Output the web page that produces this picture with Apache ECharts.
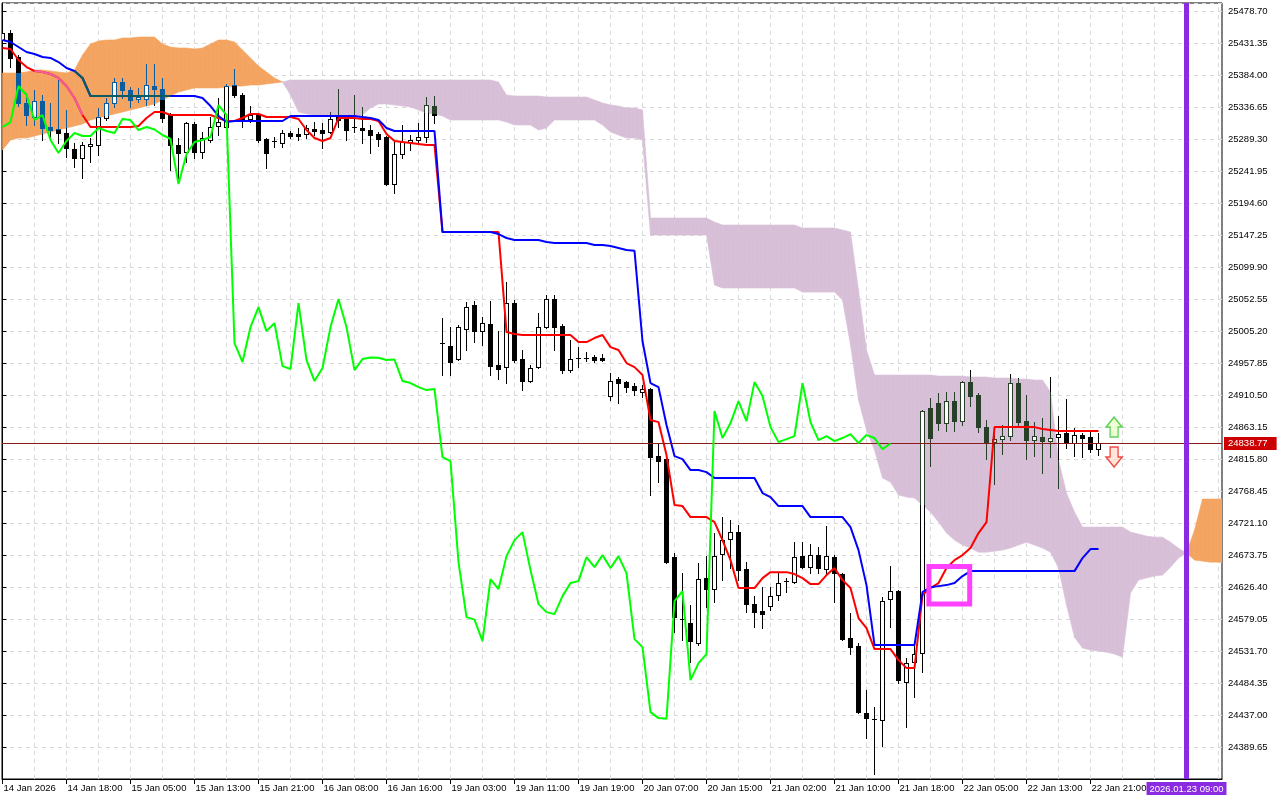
<!DOCTYPE html>
<html><head><meta charset="utf-8">
<script src="https://cdn.jsdelivr.net/npm/echarts@6/dist/echarts.min.js"></script>
<style>html,body{margin:0;padding:0;background:#fff}#c{width:1280px;height:800px}</style>
</head><body><div id="c"></div>
<script>
// ---------------- data ----------------
const xLabels = ['14 Jan 2026','14 Jan 18:00','15 Jan 05:00','15 Jan 13:00','15 Jan 21:00','16 Jan 08:00','16 Jan 16:00','19 Jan 03:00','19 Jan 11:00','19 Jan 19:00','20 Jan 07:00','20 Jan 15:00','21 Jan 02:00','21 Jan 10:00','21 Jan 18:00','22 Jan 05:00','22 Jan 13:00','22 Jan 21:00'];
const labelBars = [0,8,16,24,32,40,48,56,64,72,80,88,96,104,112,120,128,136];

const opens = [25435.8,25446.2,25410.6,25342.6,25321.8,25345.5,25307.0,25304.1,25298.2,25274.5,
25261.2,25278.9,25280.4,25320.4,25342.6,25373.6,25361.8,25348.5,25348.5,25367.7,
25363.3,25324.8,25280.4,25270.0,25311.5,25270.0,25287.8,25308.5,25307.0,25369.2,
25354.4,25318.9,25324.8,25289.3,25284.8,25283.4,25298.2,25296.7,25296.7,25304.1,
25302.6,25299.6,25321.8,25320.4,25305.6,25305.6,25302.6,25296.7,25292.2,25222.7,
25267.1,25284.8,25287.8,25292.2,25338.1,24985.9,24982.9,24963.7,25008.1,25043.6,
25005.1,25015.5,24954.8,24951.8,25046.6,24963.7,24931.1,24951.8,25011.0,25052.5,
25012.5,24947.4,24965.2,24965.2,24966.6,24965.2,24908.9,24934.1,24929.6,24923.7,
24914.8,24919.3,24820.1,24815.7,24670.6,24578.9,24573.0,24543.4,24639.6,24623.3,
24675.1,24697.3,24707.6,24652.9,24601.1,24590.7,24598.1,24614.4,24633.6,24633.6,
24672.1,24655.8,24673.6,24652.9,24670.6,24645.5,24550.8,24538.9,24439.8,24430.9,
24429.4,24608.5,24620.3,24485.6,24515.2,24528.6,24891.2,24898.6,24869.0,24901.5,
24871.9,24929.6,24910.4,24863.0,24840.8,24845.3,24849.7,24928.2,24871.9,24843.8,
24848.2,24842.3,24848.2,24854.2,24839.4,24851.2,24848.2,24830.5];
const closes = [25446.2,25409.2,25342.6,25324.8,25345.5,25305.6,25302.6,25298.2,25276.0,25261.2,
25280.4,25281.9,25321.8,25342.6,25373.6,25361.8,25347.0,25351.4,25369.2,25363.3,
25320.4,25280.4,25268.6,25313.0,25270.0,25290.8,25307.0,25314.4,25367.7,25354.4,
25317.4,25324.8,25287.8,25268.6,25286.3,25298.2,25293.7,25293.7,25305.6,25301.1,
25298.2,25318.9,25317.4,25302.6,25307.0,25303.3,25295.2,25289.3,25222.7,25267.1,
25284.8,25287.8,25292.2,25339.6,25324.8,24987.4,24959.2,25011.0,25040.6,25005.1,
25016.9,24953.3,24948.9,25046.6,24962.2,24931.1,24950.4,25011.0,25052.5,25011.0,
24947.4,24963.7,24965.9,24965.6,24962.2,24963.0,24931.1,24928.2,24922.2,24917.8,
24919.3,24818.6,24812.7,24663.2,24581.8,24578.1,24546.3,24638.1,24623.3,24672.1,
24695.8,24707.6,24651.4,24601.1,24589.2,24586.3,24612.9,24632.2,24635.1,24670.6,
24655.8,24673.6,24654.4,24672.1,24647.0,24549.3,24537.4,24441.2,24432.4,24431.6,
24605.5,24620.3,24488.6,24513.8,24527.1,24886.7,24846.8,24869.0,24901.5,24871.9,
24929.6,24908.9,24863.0,24840.8,24845.3,24849.7,24928.2,24870.4,24843.8,24849.7,
24842.3,24846.8,24852.7,24839.4,24851.2,24846.8,24830.5,24838.77];
const highs = [25453.6,25450.6,25413.6,25357.4,25361.8,25354.4,25342.6,25376.6,25332.2,25283.4,
25284.8,25290.8,25335.2,25350.0,25379.6,25379.6,25366.2,25364.8,25400.3,25400.3,
25379.6,25327.8,25290.8,25314.4,25314.4,25299.6,25321.8,25350.0,25370.7,25392.9,
25357.4,25338.1,25327.8,25290.8,25292.2,25302.6,25301.1,25305.6,25310.0,25314.4,
25313.0,25329.2,25363.3,25321.8,25354.4,25336.6,25310.0,25299.6,25293.7,25284.8,
25310.0,25295.2,25313.0,25351.4,25352.9,25024.4,25011.0,25014.0,25048.0,25049.5,
25025.8,25049.5,25005.1,25077.6,25051.0,24977.0,24954.8,25031.8,25058.4,25058.4,
25015.5,24991.8,24981.4,24974.0,24969.6,24971.1,24943.0,24937.0,24931.1,24928.2,
24925.2,24920.8,24839.4,24817.2,24676.6,24647.0,24599.6,24661.8,24672.1,24706.2,
24729.8,24725.4,24718.0,24663.2,24612.9,24626.2,24626.2,24647.0,24639.6,24692.8,
24692.8,24689.9,24685.4,24716.5,24673.6,24647.0,24587.8,24543.4,24473.8,24448.6,
24611.4,24657.3,24621.8,24521.2,24543.4,24888.2,24906.0,24913.4,24914.8,24914.8,
24931.1,24947.4,24913.4,24873.4,24851.2,24866.0,24941.5,24935.6,24910.4,24870.4,
24876.4,24937.0,24879.3,24904.5,24861.6,24854.2,24858.6,24854.2];
const lows = [25428.4,25395.8,25338.1,25310.0,25310.0,25287.8,25287.8,25283.4,25262.6,25247.8,
25231.6,25255.2,25265.6,25317.4,25336.6,25350.0,25336.6,25344.0,25339.6,25339.6,
25314.4,25243.4,25224.2,25255.2,25261.2,25261.2,25284.8,25295.2,25304.1,25351.4,
25307.0,25314.4,25284.8,25246.4,25277.4,25277.4,25290.8,25287.8,25290.8,25295.2,
25276.0,25298.2,25307.0,25287.8,25299.6,25283.4,25268.6,25278.9,25221.2,25209.4,
25261.2,25273.0,25284.8,25284.8,25313.0,24940.0,24940.0,24962.2,24977.0,24988.8,
24984.4,24940.0,24934.1,24928.2,24959.2,24917.8,24929.6,24950.4,25009.6,24977.0,
24943.0,24944.4,24951.8,24960.7,24959.2,24960.7,24903.0,24898.6,24914.8,24910.4,
24907.4,24762.4,24781.6,24661.8,24559.6,24547.8,24515.2,24540.4,24596.6,24604.0,
24636.6,24654.4,24636.6,24589.2,24567.0,24565.6,24592.2,24607.0,24618.8,24632.2,
24654.4,24647.0,24647.0,24647.0,24604.0,24547.8,24527.1,24439.8,24402.8,24349.5,
24390.9,24567.0,24484.2,24419.0,24463.4,24500.4,24805.3,24858.6,24857.1,24857.1,
24866.0,24894.1,24855.6,24815.7,24778.7,24823.1,24843.8,24863.0,24815.7,24820.1,
24795.0,24818.6,24772.8,24832.0,24820.1,24818.6,24826.0,24821.6];

const tenkan = [25424.0,25422.5,25406.2,25395.8,25389.9,25388.4,25385.5,25379.6,25367.7,25350.0,
25324.8,25307.0,25307.0,25307.0,25307.0,25307.0,25307.0,25308.5,25320.4,25329.2,
25329.2,25324.8,25324.8,25324.8,25324.8,25324.8,25324.8,25320.4,25315.9,25315.9,
25320.4,25326.3,25326.3,25321.8,25321.8,25321.8,25321.8,25318.9,25302.6,25290.8,
25286.3,25290.8,25320.4,25320.4,25320.4,25318.9,25318.9,25315.9,25296.7,25286.3,
25284.8,25283.4,25281.9,25280.4,25280.4,25151.6,25151.6,25151.6,25151.6,25151.6,
25151.6,25151.6,25151.6,25003.6,25000.7,24999.2,24999.2,24999.2,24999.2,24999.2,
24999.2,24999.2,24988.8,24988.8,24994.8,24999.2,24981.4,24977.0,24957.8,24951.8,
24940.0,24873.4,24870.4,24821.6,24747.6,24746.1,24729.8,24729.8,24729.8,24722.4,
24695.8,24666.2,24624.8,24624.8,24624.8,24639.6,24648.4,24648.4,24648.4,24645.5,
24639.6,24630.7,24630.7,24644.0,24654.4,24636.6,24624.8,24580.4,24565.6,24534.5,
24534.5,24534.5,24518.2,24506.4,24506.4,24614.4,24624.8,24632.2,24654.4,24666.2,
24673.6,24684.0,24706.2,24722.4,24863.0,24863.0,24863.0,24863.0,24863.0,24863.0,
24860.1,24858.6,24857.1,24857.1,24857.1,24857.1,24857.1,24857.1];
const kijun = [25435.8,25432.8,25425.4,25418.0,25415.1,25410.6,25409.2,25403.2,25394.4,25389.9,
25379.6,25352.9,25352.9,25352.9,25352.9,25352.9,25352.9,25352.9,25352.9,25352.9,
25352.9,25352.9,25352.9,25352.9,25352.9,25350.0,25338.1,25323.3,25314.4,25315.9,
25315.9,25315.9,25315.9,25315.9,25315.9,25315.9,25323.3,25323.3,25323.3,25323.3,
25323.3,25323.3,25323.3,25323.3,25323.3,25321.8,25320.4,25317.4,25305.6,25301.1,
25301.1,25301.1,25301.1,25301.1,25301.1,25151.6,25151.6,25151.6,25151.6,25151.6,
25151.6,25151.6,25148.7,25142.8,25139.8,25139.8,25139.8,25139.8,25136.8,25135.4,
25135.4,25135.4,25135.4,25135.4,25132.4,25132.4,25130.9,25128.0,25125.0,25124.0,
24990.0,24928.2,24922.2,24866.0,24820.1,24815.7,24799.4,24799.4,24796.4,24787.6,
24787.6,24787.6,24787.6,24787.6,24787.6,24765.4,24759.4,24746.1,24746.1,24746.1,
24746.1,24729.8,24729.8,24729.8,24729.8,24729.8,24715.0,24681.0,24629.2,24540.4,
24540.4,24540.4,24540.4,24540.4,24540.4,24618.8,24626.2,24627.7,24629.2,24632.2,
24642.5,24649.9,24649.9,24649.9,24649.9,24649.9,24649.9,24649.9,24649.9,24649.9,
24649.9,24649.9,24649.9,24649.9,24649.9,24669.2,24682.5,24682.5];

// Senkou spans (already shifted 26 bars forward), bars 0..153
const spanA = [25387.0,25387.0,25387.0,25388.4,25391.4,25391.4,25389.9,25388.4,25387.0,25391.4,
25413.6,25429.9,25434.3,25435.8,25435.8,25438.8,25438.8,25440.2,25440.2,25440.2,
25429.9,25425.4,25424.0,25424.0,25422.5,25424.0,25429.9,25435.8,25435.8,25432.8,
25421.0,25409.2,25397.3,25388.4,25379.6,25373.6,25354.4,25329.2,25326.3,25324.8,
25324.8,25324.8,25324.8,25324.8,25324.8,25324.8,25335.2,25341.1,25341.1,25339.6,
25338.1,25336.6,25332.2,25327.8,25326.3,25323.3,25317.4,25317.4,25317.4,25317.4,
25317.4,25317.4,25317.4,25314.4,25310.0,25310.0,25310.0,25302.6,25305.6,25317.4,
25317.4,25317.4,25317.4,25317.4,25317.4,25310.0,25299.6,25295.2,25290.8,25290.8,
25287.8,25147.2,25147.2,25147.2,25147.2,25147.2,25147.2,25147.2,25147.2,25073.2,
25068.8,25068.8,25068.8,25068.8,25068.8,25068.8,25068.8,25068.8,25068.8,25068.8,
25062.8,25062.8,25062.8,25062.8,25062.8,25051.0,24984.4,24903.0,24858.6,24829.0,
24787.6,24781.6,24762.4,24759.4,24758.0,24747.6,24737.2,24722.4,24706.2,24695.8,
24688.4,24684.0,24678.0,24678.0,24679.5,24681.0,24684.0,24688.4,24692.8,24688.4,
24684.0,24678.0,24654.4,24599.6,24552.2,24536.0,24533.0,24531.5,24530.0,24527.1,
24522.6,24617.4,24636.6,24639.6,24642.5,24644.0,24655.8,24669.2,24676.6,24710.6,
24756.5,24756.5,24756.5,24756.5];
const spanB = [25273.0,25287.8,25290.8,25290.8,25293.7,25296.7,25299.6,25302.6,25305.6,25308.5,
25311.5,25317.4,25320.4,25323.3,25326.3,25329.2,25332.2,25335.2,25338.1,25341.1,
25347.0,25352.9,25358.8,25361.8,25364.8,25364.8,25364.8,25364.8,25366.2,25367.7,
25367.7,25369.2,25369.2,25370.7,25372.2,25373.6,25376.6,25376.6,25376.6,25376.6,
25376.6,25376.6,25376.6,25376.6,25376.6,25376.6,25376.6,25376.6,25376.6,25376.6,
25376.6,25376.6,25376.6,25376.6,25376.6,25376.6,25376.6,25376.6,25376.6,25376.6,
25376.6,25376.6,25373.6,25354.4,25352.9,25352.9,25352.9,25352.9,25351.4,25351.4,
25351.4,25351.4,25351.4,25351.4,25347.0,25342.6,25339.6,25338.1,25335.2,25335.2,
25332.2,25172.4,25172.4,25172.4,25172.4,25172.4,25172.4,25172.4,25172.4,25166.4,
25162.0,25162.0,25162.0,25162.0,25162.0,25162.0,25162.0,25162.0,25162.0,25162.0,
25157.6,25157.6,25157.6,25157.6,25157.6,25154.6,25151.6,25065.8,24977.0,24940.0,
24940.0,24940.0,24940.0,24940.0,24940.0,24940.0,24940.0,24938.5,24938.5,24938.5,
24938.5,24937.0,24937.0,24937.0,24935.6,24935.6,24935.6,24934.1,24934.1,24932.6,
24932.6,24914.8,24814.2,24765.4,24737.2,24715.0,24715.0,24715.0,24715.0,24715.0,
24715.0,24707.6,24704.7,24701.7,24700.2,24700.2,24692.8,24683.9,24676.6,24666.2,
24664.7,24663.2,24663.2,24661.8];

const lastPrice = 24838.77;
const cursorBar = 148;
const cursorLabel = '2026.01.23 09:00';
const boxCorners = [[115.8, 24656.7], [120.9, 24601.3]];
const arrowUpPos = [138.95, 24863.1];
const arrowDownPos = [138.95, 24818.8];

// ---------------- derived ----------------
const FONT = '"Liberation Sans", Arial, sans-serif';
const FS = 9.5;
const ORANGE = '#f4a460', PURPLE = '#d8bfd8';
const candleData = opens.map((o, i) => [i, o, closes[i], lows[i], highs[i]]);
const chikouData = closes.slice(26).map((v, i) => [i, v]);
const cloudData = spanA.map((a, i) => [i, a, spanB[i]]);
function inOrange(i, v) { return spanA[i] > spanB[i] && v <= spanA[i] && v >= spanB[i]; }
const tenkanTint = tenkan.map((v, i) => [i, inOrange(i, v) ? v : null]);
const kijunTint = kijun.map((v, i) => [i, inOrange(i, v) ? v : null]);
const vGridBars = [];
for (let b = 0; b <= 152; b += 4) vGridBars.push({ xAxis: b });

function renderCloud(params, api) {
  const i = api.value(0);
  if (i >= spanA.length - 1) return null;
  const a0 = spanA[i], b0 = spanB[i], a1 = spanA[i + 1], b1 = spanB[i + 1];
  const P = (x, v) => api.coord([x, v]);
  const d0 = a0 - b0, d1 = a1 - b1;
  const col = d => d > 0 ? ORANGE : PURPLE;
  const polys = [];
  if ((d0 >= 0 && d1 >= 0) || (d0 <= 0 && d1 <= 0)) {
    const d = Math.abs(d0) > Math.abs(d1) ? d0 : d1;
    if (d === 0) return null;
    polys.push({ pts: [P(i, a0), P(i + 1, a1), P(i + 1, b1), P(i, b0)], c: col(d) });
  } else {
    const t = d0 / (d0 - d1);
    const xc = i + t, vc = a0 + t * (a1 - a0);
    polys.push({ pts: [P(i, a0), P(xc, vc), P(i, b0)], c: col(d0) });
    polys.push({ pts: [P(xc, vc), P(i + 1, a1), P(i + 1, b1)], c: col(d1) });
  }
  return { type: 'group', children: polys.map(p => ({ type: 'polygon', shape: { points: p.pts }, style: { fill: p.c, stroke: p.c, lineWidth: 0.6 } })) };
}

function renderCandle(params, api) {
  const i = api.value(0), o = api.value(1), c = api.value(2), l = api.value(3), h = api.value(4);
  const cx = Math.round(api.coord([i, o])[0] - 0.5) + 0.5;
  const Y = v => Math.round(api.coord([i, v])[1]);
  const yO = Y(o), yC = Y(c), yL = Y(l), yH = Y(h);
  const a = spanA[i], b = spanB[i];
  const has = Math.abs(a - b) > 0.05;
  const cTop = Math.round(api.coord([i, Math.max(a, b)])[1]);
  const cBot = Math.round(api.coord([i, Math.min(a, b)])[1]);
  const tint = a > b ? '#0b5b9f' : '#274027';
  const kids = [];
  function addV(x, w, y1, y2) {
    if (y2 <= y1) return;
    const segs = [];
    if (!has) segs.push([y1, y2, false]);
    else {
      if (y1 < cTop) segs.push([y1, Math.min(y2, cTop), false]);
      const s = Math.max(y1, cTop), e = Math.min(y2, cBot);
      if (e > s) segs.push([s, e, true]);
      if (y2 > cBot) segs.push([Math.max(y1, cBot), y2, false]);
    }
    segs.forEach(sg => {
      if (sg[1] > sg[0]) kids.push({ type: 'rect', shape: { x: x, y: sg[0], width: w, height: sg[1] - sg[0] }, style: { fill: sg[2] ? tint : '#000' } });
    });
  }
  addV(cx - 0.5, 1, yH, yL + 1);
  const top = Math.min(yO, yC), bot = Math.max(yO, yC);
  if (bot - top < 2) {
    addV(cx - 2.5, 5, top, top + 1);
  } else if (c < o) {
    addV(cx - 2.5, 5, top, bot + 1);
  } else {
    kids.push({ type: 'rect', shape: { x: cx - 2.5, y: top, width: 5, height: bot - top + 1 }, style: { fill: '#fff' } });
    addV(cx - 2.5, 1, top, bot + 1);
    addV(cx + 1.5, 1, top, bot + 1);
    addV(cx - 1.5, 3, top, top + 1);
    addV(cx - 1.5, 3, bot, bot + 1);
  }
  return { type: 'group', children: kids };
}

const Y_MIN = 24342.30, Y_MAX = 25490.54, Y_STEP = 47.35;

const chart = echarts.init(document.getElementById('c'), null, { renderer: 'canvas' });
chart.setOption({
  animation: false,
  backgroundColor: '#ffffff',
  grid: { left: 2, right: 58, top: 3, bottom: 21, show: true, borderColor: '#000', borderWidth: 1, backgroundColor: 'transparent', containLabel: false, outerBoundsMode: 'none' },
  xAxis: {
    type: 'value', min: -0.0625, max: 152.4375,
    axisLine: { show: true, onZero: false, lineStyle: { color: '#000', width: 1 } },
    axisTick: { show: true, customValues: labelBars, length: 5, lineStyle: { color: '#000' } },
    axisLabel: { show: true, customValues: labelBars, formatter: v => xLabels[labelBars.indexOf(Math.round(v))] || '', align: 'left', margin: 4, padding: [0, 0, 0, 1], color: '#000', fontFamily: FONT, fontSize: FS },
    splitLine: { show: false }
  },
  yAxis: {
    type: 'value', position: 'right', min: Y_MIN, max: Y_MAX, interval: Y_STEP,
    axisLine: { show: true, lineStyle: { color: '#000', width: 1 } },
    axisTick: { show: true, inside: false, length: 4, lineStyle: { color: '#000' } },
    axisLabel: {
      color: '#000', fontFamily: FONT, fontSize: FS, margin: 6, showMinLabel: false, showMaxLabel: false,
      formatter: v => { const k = (v - Y_MIN) / Y_STEP; return (Math.abs(k - Math.round(k)) < 0.01 && k > 0.5) ? v.toFixed(2) : ''; }
    },
    splitLine: { show: true, lineStyle: { color: '#d9d9d9', width: 1, type: [4, 4] } }
  },
  series: [
    { type: 'line', data: [[0, 25000]], symbol: 'none', lineStyle: { opacity: 0 }, silent: true, z: 0,
      markLine: { silent: true, symbol: 'none', z: 0, label: { show: false }, lineStyle: { color: '#d9d9d9', width: 1, type: [4, 4] }, data: vGridBars } },
    { type: 'custom', renderItem: renderCloud, data: cloudData, encode: { x: 0, y: [1, 2] }, clip: true, silent: true, z: 1 },
    { type: 'custom', renderItem: renderCandle, data: candleData, encode: { x: 0, y: [1, 2, 3, 4] }, clip: true, silent: true, z: 3,
      markArea: { silent: true, z: 6, itemStyle: { color: 'rgba(0,0,0,0)', borderColor: '#ff40ff', borderWidth: 5 },
        data: [[{ xAxis: boxCorners[0][0], yAxis: boxCorners[0][1] }, { xAxis: boxCorners[1][0], yAxis: boxCorners[1][1] }]] } },
    { type: 'line', data: tenkan.map((v, i) => [i, v]), symbol: 'none', lineStyle: { color: '#ff0000', width: 2 }, silent: true, z: 4,
      markLine: { silent: true, symbol: 'none', z: 5, lineStyle: { color: '#8b1a1a', width: 1, type: 'solid' },
        label: { show: true, position: 'end', distance: 2, formatter: () => lastPrice.toFixed(2), color: '#fff', backgroundColor: '#cc0000', padding: [2, 9, 1, 4], fontFamily: FONT, fontSize: FS },
        data: [{ yAxis: lastPrice }] } },
    { type: 'line', data: tenkanTint, symbol: 'none', lineStyle: { color: '#f45b9f', width: 2 }, silent: true, z: 4 },
    { type: 'line', data: kijun.map((v, i) => [i, v]), symbol: 'none', lineStyle: { color: '#0000ff', width: 2 }, silent: true, z: 4 },
    { type: 'line', data: kijunTint, symbol: 'none', lineStyle: { color: '#0b5b60', width: 2 }, silent: true, z: 4 },
    { type: 'line', data: chikouData, symbol: 'none', lineStyle: { color: '#00ff00', width: 2 }, silent: true, z: 5,
      markLine: { silent: true, symbol: 'none', z: 7, lineStyle: { color: '#8a2be2', width: 5, type: 'solid' },
        label: { show: true, position: 'start', distance: 3, formatter: () => cursorLabel, color: '#fff', backgroundColor: '#8a2be2', padding: [2, 3, 1, 3], fontFamily: FONT, fontSize: FS },
        data: [{ xAxis: cursorBar }] } },
    { type: 'scatter', data: [arrowUpPos], symbol: 'path://M8,0 L16,10 L12,10 L12,20 L4,20 L4,10 L0,10 Z', symbolSize: [16, 20], silent: true, z: 8,
      itemStyle: { color: '#eaffc8', borderColor: '#3cc83c', borderWidth: 1.5 } },
    { type: 'scatter', data: [arrowDownPos], symbol: 'path://M4,0 L12,0 L12,10 L16,10 L8,20 L0,10 L4,10 Z', symbolSize: [16, 20], silent: true, z: 8,
      itemStyle: { color: '#ffe0d0', borderColor: '#ee2020', borderWidth: 1.5 } }
  ]
});
</script>
</body></html>
